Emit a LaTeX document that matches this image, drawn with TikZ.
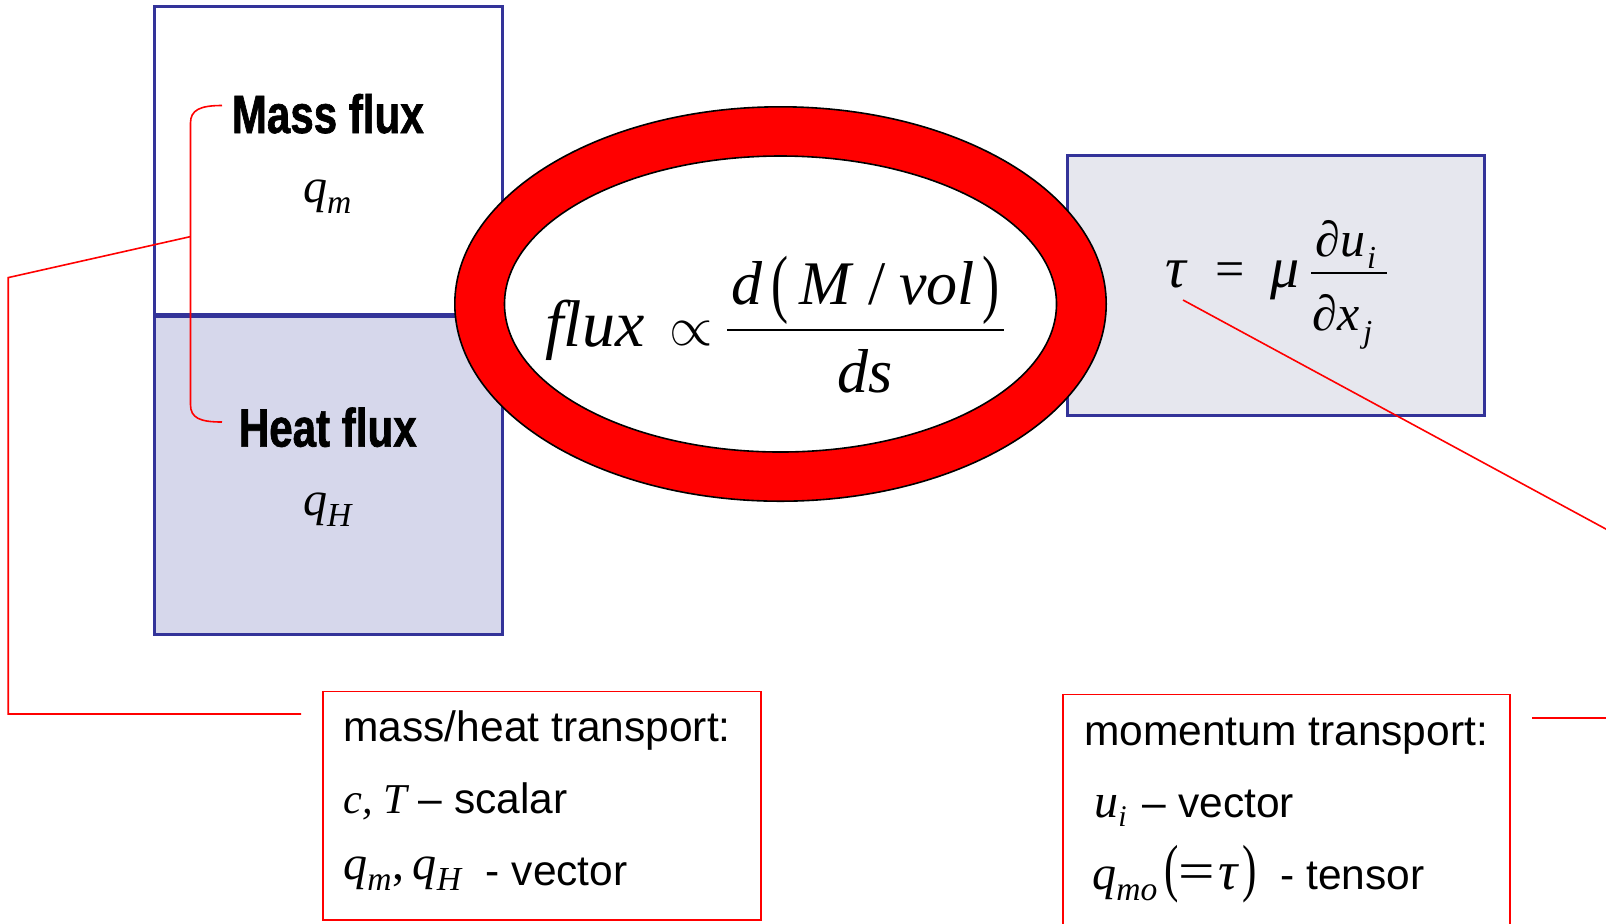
\documentclass[tikz,border=0pt]{standalone}
\usepackage{amsmath}
\usepackage{graphicx}
\usepackage{fontspec}
\setmainfont{Liberation Serif}
\newfontfamily\arial{Liberation Sans}
\newfontfamily\heavy[FakeStretch=0.78,FakeBold=1.2]{Liberation Sans Bold}
\newcommand\vi[1]{\textnormal{\itshape #1}}
\newcommand\thinparen[1]{\scalebox{0.8}[1.18]{#1}}
\definecolor{boxblue}{RGB}{51,51,153}
\definecolor{lavender}{RGB}{214,215,235}
\definecolor{paleblue}{RGB}{230,231,238}
\begin{document}
\begin{tikzpicture}[x=0.5pt,y=-0.5pt,
  bluebox/.style={draw=boxblue,line width=1.5pt},
  redline/.style={draw=red,line width=0.8pt},
  redbox/.style={draw=red,line width=0.9pt},
  heading/.style={inner sep=0pt,anchor=base,font=\fontsize{27}{30}\heavy},
  mathlbl/.style={inner sep=0pt,anchor=base,font=\fontsize{24}{28}\selectfont},
  fx/.style={inner sep=0pt,anchor=base west},
  numit/.style={fx,font=\fontsize{31}{36}\selectfont\itshape},
  paren/.style={fx,font=\fontsize{32}{36}\selectfont},
  taubig/.style={fx,font=\fontsize{29}{32}\selectfont\itshape},
  taufr/.style={fx,font=\fontsize{25}{28}\selectfont\itshape},
  boxtext/.style={inner sep=0pt,anchor=base west,font=\fontsize{21.25}{25}\arial}]
\useasboundingbox (0,0) rectangle (1606,923);
\clip (0,0) rectangle (1606,923);
% left boxes
\draw[bluebox] (154.7,6.2) rectangle (502.5,315.5);
\draw[bluebox,fill=lavender] (154.7,315.5) rectangle (502.5,634);
\draw[boxblue,line width=2.2pt] (154.7,315.5) -- (600,315.5);
% right box
\draw[bluebox,fill=paleblue] (1067.3,155.7) rectangle (1484.2,415.9);
% red boxes
\draw[redbox] (322.7,691.4) rectangle (761,919.8);
\draw[redbox] (1063,694.5) rectangle (1510,950);
% texts in left boxes
\node[heading] (mass) at (327.8,133) {Mass flux};
\node[mathlbl] (qm) at (327.8,202) {$\vi{q}_{\vi{m}}$};
\node[heading] (heat) at (327.8,446.6) {Heat flux};
\node[mathlbl] (qh) at (327.8,515) {$\vi{q}_{\vi{H}}$};
% tau formula
\node[taubig] (tau) at (1165,287) {τ};
\node[inner sep=0pt,font=\fontsize{26}{30}\selectfont] (eq) at (1230.5,275) {=};
\node[taubig] (mu) at (1270,287) {μ};
\coordinate (tbarL) at (1311,273.3);
\coordinate (tbarR) at (1387.3,273.3);
\draw[line width=1pt] (tbarL) -- (tbarR);
\node[taufr] (tnum) at (1315,256) {∂u\hspace{1pt}\raisebox{-6pt}{\fontsize{16}{16}\selectfont i}};
\node[taufr] (tden) at (1312,330) {∂x\hspace{2pt}\raisebox{-6pt}{\fontsize{16}{16}\selectfont j}};
% connector coordinates
\coordinate (bt) at (222,105.5);
\coordinate (bb) at (222,422);
\coordinate (bm) at (190.5,236.6);
\coordinate (lb) at (301,714);
\coordinate (tauf) at (1183,300);
\coordinate (rb) at (1532,718);
% bracket and connectors
\draw[redline] (bt) .. controls (200,105.5) and (190.5,110) .. (190.5,123) -- (190.5,404.6)
  .. controls (190.5,418) and (200,422) .. (bb);
\draw[redline] (bm) -- (8.2,277.6) -- (8.2,714) -- (lb);
\draw[redline] (tauf) -- (1700,580) -- (1700,718) -- (rb);
% ellipse ring
\draw[line width=0.8pt,fill=red] (780.5,304) ellipse [x radius=325.7,y radius=197.2];
\draw[line width=0.8pt,fill=white] (780.5,304) ellipse [x radius=276,y radius=148];
% flux formula
\node[fx,font=\fontsize{33}{38}\selectfont\itshape] (flux) at (545,346) {flux};
\node[inner sep=0pt] (prop) at (691,333) {\fontsize{32}{38}\selectfont\scalebox{1.12}{$\propto$}};
\coordinate (barL) at (727,330);
\coordinate (barR) at (1004,330);
\draw[line width=1.3pt] (barL) -- (barR);
\node[numit] (nd) at (731,304) {d};
\node[paren] (lp) at (771,308) {\thinparen{(}};
\node[numit] (nM) at (799,304) {M};
\node[fx,font=\fontsize{31}{36}\selectfont] (sl) at (868,304) {/};
\node[numit] (nv) at (899,304) {vol};
\node[paren] (rp) at (982,308) {\thinparen{)}};
\node[numit] (den) at (837,392) {ds};
% bottom-left text
\node[boxtext] (l1) at (343,741.5) {mass/heat transport:};
\node[boxtext] (l2) at (343,813) {{\rmfamily\itshape c, T} – scalar};
\node[boxtext] (l3) at (343,885) {\raisebox{3pt}{\fontsize{24}{28}\selectfont$\vi{q}_{\vi{m}}\textnormal{,}\,\vi{q}_{\vi{H}}$}\ \ - vector};
% bottom-right text
\node[boxtext] (r1) at (1083.7,745) {momentum transport:};
\node[boxtext] (r2) at (1094,817.5) {{\fontsize{24}{28}\selectfont\vi{u}\raisebox{-4.5pt}{\fontsize{15}{15}\selectfont\vi{i}}}\hspace{8pt}– vector};
\node[boxtext] (r3) at (1092,889) {{\fontsize{24}{28}\selectfont$\vi{q}_{\vi{mo}}$}\hspace{3pt}{\fontsize{27}{30}\rmfamily\thinparen{(}\scalebox{1.2}[1]{=}\hspace{1.5pt}\vi{τ}\hspace{1.5pt}\thinparen{)}}\ \ - tensor};
\end{tikzpicture}
\end{document}
